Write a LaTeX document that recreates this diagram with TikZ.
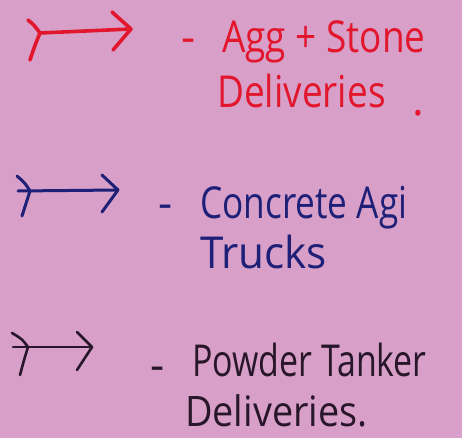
\documentclass[tikz,border=0pt]{standalone}
\usepackage{fontspec}
\setmainfont{Open Sans}
\usetikzlibrary{calc}
\definecolor{paper}{RGB}{216,160,200}
\definecolor{inkred}{RGB}{226,22,44}
\definecolor{inkblue}{RGB}{30,32,120}
\definecolor{inkdark}{RGB}{40,22,42}
\tikzset{
  pen/.style={line width=#1, line cap=round, line join=round},
  note/.style={anchor=base west, inner sep=0pt, font=\fontsize{44}{52}\selectfont},
}
\begin{document}
\begin{tikzpicture}[x=1pt,y=-1pt]
  \useasboundingbox (0,0) rectangle (462,438);
  \fill[paper] (0,0) rectangle (462,438);

  % --- red: aggregate and stone deliveries
  \coordinate (rt) at (40,33);
  \coordinate (rh) at (131,29);
  \draw[inkred,pen=3.6pt] (28,20) .. controls (34,25) .. (rt) .. controls (35,45) .. (30,60);
  \draw[inkred,pen=3.6pt] (rt) -- (rh);
  \draw[inkred,pen=3.6pt] (112,12) -- (rh) -- (113,50);
  \node[note,text=inkred] (rdash) at (181,53) {-};
  \node[note,text=inkred] (r1) at (222,53) {\scalebox{0.84}[1]{Agg + Stone}};
  \node[note,text=inkred] (r2) at (217,108) {\scalebox{0.84}[1]{Deliveries}};
  \node[note,text=inkred] (rdot) at (412,116) {.};

  % --- blue: concrete agitator trucks
  \coordinate (bs) at (18,191);
  \coordinate (bt) at (30,191);
  \coordinate (bh) at (118,190);
  \draw[inkblue,pen=3pt] (17,176) .. controls (25,183) .. (bt) .. controls (26,203) .. (22,216);
  \draw[inkblue,pen=3pt] (bs) -- (bh);
  \draw[inkblue,pen=3pt] (102,175) -- (bh) -- (102,212);
  \node[note,text=inkblue] (bdash) at (158,218) {-};
  \node[note,text=inkblue] (b1) at (200,218) {\scalebox{0.8}[1]{Concrete Agi}};
  \node[note,text=inkblue] (b2) at (200,268) {\scalebox{0.96}[1]{Trucks}};

  % --- dark: powder tanker deliveries
  \coordinate (ks) at (13,347);
  \coordinate (kt) at (28,347);
  \coordinate (kh) at (92,347);
  \draw[inkdark,pen=2.6pt] (12,333) .. controls (22,339) .. (kt) .. controls (24,360) .. (20,375);
  \draw[inkdark,pen=2.6pt] (ks) -- (kh);
  \draw[inkdark,pen=2.6pt] (77,332) -- (kh) -- (77,370);
  \node[note,text=inkdark] (kdash) at (150,380) {-};
  \node[note,text=inkdark] (k1) at (192,376) {\scalebox{0.77}[1]{Powder Tanker}};
  \node[note,text=inkdark,font=\fontsize{42}{50}\selectfont] (k2) at (185,426) {\scalebox{0.9}[1]{Deliveries.}};
\end{tikzpicture}
\end{document}
